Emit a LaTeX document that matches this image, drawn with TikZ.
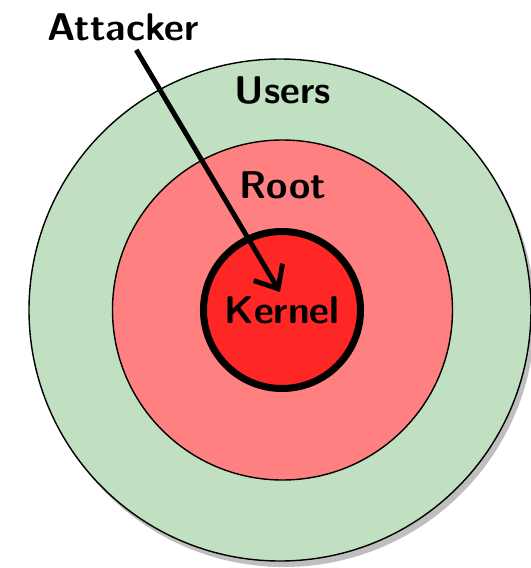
\documentclass[tikz,border=0pt]{standalone}
\usepackage{tikz}
\usetikzlibrary{shadows, arrows.meta}
\definecolor{usersgreen}{RGB}{193,223,193}
\definecolor{rootred}{RGB}{255,128,128}
\definecolor{kernelred}{RGB}{255,38,38}
\begin{document}
\begin{tikzpicture}[scale=1, font=\sffamily\bfseries\fontsize{22}{26}\selectfont]
		\useasboundingbox (-5.6,-5.16) rectangle (5.02,6.2);

		\node[draw, circle, fill=usersgreen, minimum size=10.04cm, line width=0.8pt, drop shadow={shadow xshift=0.08cm, shadow yshift=-0.12cm}] (users) at (0,0) {};
		\node[draw, circle, fill=rootred, minimum size=6.8cm, line width=0.8pt] (root) at (0.05,0) {};
		\node[draw, circle, fill=kernelred, minimum size=3.14cm, line width=4pt] (kernel) at (0.04,0) {Kernel};

		\node (userslabel) at (0.06,4.38) {Users};
		\node (rootlabel) at (0.06,2.5) {Root};
		\node (attacker) at (-3.14,5.66) {Attacker};

		\coordinate (hit) at (0,0.36);
		\draw[-{Straight Barb[length=11pt,width=19pt]}, line width=2.8pt, shorten <=2pt] (attacker.-60) -- (hit);

	\end{tikzpicture}
\end{document}
